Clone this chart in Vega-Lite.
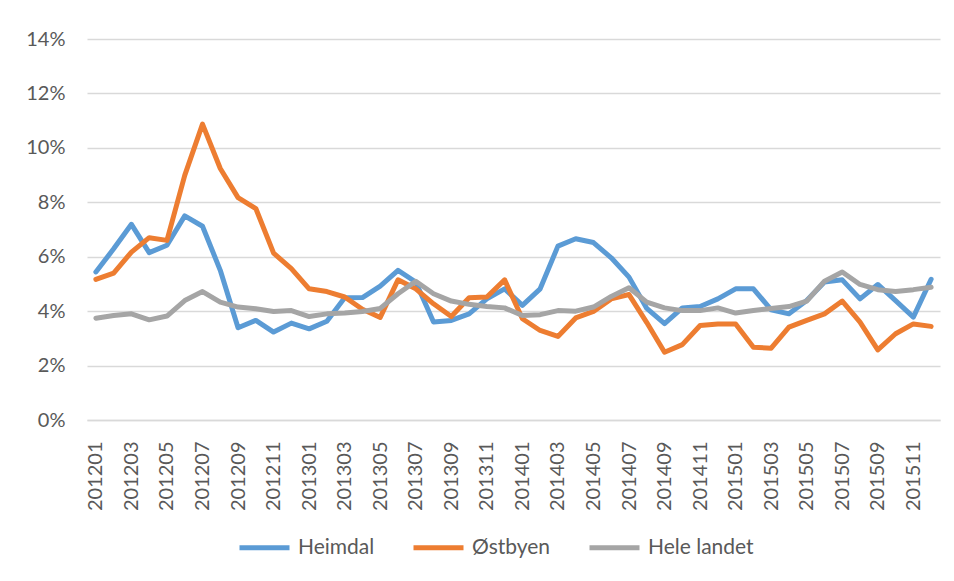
{
  "$schema": "https://vega.github.io/schema/vega-lite/v6.json",
  "width": 853,
  "height": 381,
  "autosize": {"type": "none"},
  "padding": {"left": 87, "top": 39, "right": 14, "bottom": 161},
  "background": "white",
  "config": {
    "view": {"stroke": null},
    "font": "Lato",
    "axis": {"labelFont": "Lato", "labelColor": "#595959", "labelFontSize": 20}
  },
  "data": {
    "values": [
      {"m":"201201","s":"Heimdal","v":5.44},{"m":"201202","s":"Heimdal","v":6.29},{"m":"201203","s":"Heimdal","v":7.19},{"m":"201204","s":"Heimdal","v":6.15},
      {"m":"201205","s":"Heimdal","v":6.42},{"m":"201206","s":"Heimdal","v":7.50},{"m":"201207","s":"Heimdal","v":7.12},{"m":"201208","s":"Heimdal","v":5.50},
      {"m":"201209","s":"Heimdal","v":3.39},{"m":"201210","s":"Heimdal","v":3.66},{"m":"201211","s":"Heimdal","v":3.23},{"m":"201212","s":"Heimdal","v":3.56},
      {"m":"201301","s":"Heimdal","v":3.35},{"m":"201302","s":"Heimdal","v":3.63},{"m":"201303","s":"Heimdal","v":4.49},{"m":"201304","s":"Heimdal","v":4.50},
      {"m":"201305","s":"Heimdal","v":4.92},{"m":"201306","s":"Heimdal","v":5.50},{"m":"201307","s":"Heimdal","v":5.07},{"m":"201308","s":"Heimdal","v":3.60},
      {"m":"201309","s":"Heimdal","v":3.66},{"m":"201310","s":"Heimdal","v":3.90},{"m":"201311","s":"Heimdal","v":4.45},{"m":"201312","s":"Heimdal","v":4.82},
      {"m":"201401","s":"Heimdal","v":4.21},{"m":"201402","s":"Heimdal","v":4.82},{"m":"201403","s":"Heimdal","v":6.39},{"m":"201404","s":"Heimdal","v":6.66},
      {"m":"201405","s":"Heimdal","v":6.52},{"m":"201406","s":"Heimdal","v":5.96},{"m":"201407","s":"Heimdal","v":5.25},{"m":"201408","s":"Heimdal","v":4.10},
      {"m":"201409","s":"Heimdal","v":3.54},{"m":"201410","s":"Heimdal","v":4.12},{"m":"201411","s":"Heimdal","v":4.17},{"m":"201412","s":"Heimdal","v":4.45},
      {"m":"201501","s":"Heimdal","v":4.82},{"m":"201502","s":"Heimdal","v":4.82},{"m":"201503","s":"Heimdal","v":4.05},{"m":"201504","s":"Heimdal","v":3.90},
      {"m":"201505","s":"Heimdal","v":4.39},{"m":"201506","s":"Heimdal","v":5.07},{"m":"201507","s":"Heimdal","v":5.15},{"m":"201508","s":"Heimdal","v":4.45},
      {"m":"201509","s":"Heimdal","v":4.98},{"m":"201510","s":"Heimdal","v":4.39},{"m":"201511","s":"Heimdal","v":3.78},{"m":"201512","s":"Heimdal","v":5.17},

      {"m":"201201","s":"Østbyen","v":5.17},{"m":"201202","s":"Østbyen","v":5.40},{"m":"201203","s":"Østbyen","v":6.17},{"m":"201204","s":"Østbyen","v":6.70},
      {"m":"201205","s":"Østbyen","v":6.60},{"m":"201206","s":"Østbyen","v":8.99},{"m":"201207","s":"Østbyen","v":10.87},{"m":"201208","s":"Østbyen","v":9.24},
      {"m":"201209","s":"Østbyen","v":8.17},{"m":"201210","s":"Østbyen","v":7.77},{"m":"201211","s":"Østbyen","v":6.13},{"m":"201212","s":"Østbyen","v":5.56},
      {"m":"201301","s":"Østbyen","v":4.82},{"m":"201302","s":"Østbyen","v":4.72},{"m":"201303","s":"Østbyen","v":4.52},{"m":"201304","s":"Østbyen","v":4.07},
      {"m":"201305","s":"Østbyen","v":3.77},{"m":"201306","s":"Østbyen","v":5.15},{"m":"201307","s":"Østbyen","v":4.82},{"m":"201308","s":"Østbyen","v":4.27},
      {"m":"201309","s":"Østbyen","v":3.80},{"m":"201310","s":"Østbyen","v":4.49},{"m":"201311","s":"Østbyen","v":4.52},{"m":"201312","s":"Østbyen","v":5.15},
      {"m":"201401","s":"Østbyen","v":3.72},{"m":"201402","s":"Østbyen","v":3.29},{"m":"201403","s":"Østbyen","v":3.07},{"m":"201404","s":"Østbyen","v":3.75},
      {"m":"201405","s":"Østbyen","v":3.99},{"m":"201406","s":"Østbyen","v":4.45},{"m":"201407","s":"Østbyen","v":4.61},{"m":"201408","s":"Østbyen","v":3.58},
      {"m":"201409","s":"Østbyen","v":2.49},{"m":"201410","s":"Østbyen","v":2.77},{"m":"201411","s":"Østbyen","v":3.47},{"m":"201412","s":"Østbyen","v":3.53},
      {"m":"201501","s":"Østbyen","v":3.53},{"m":"201502","s":"Østbyen","v":2.67},{"m":"201503","s":"Østbyen","v":2.64},{"m":"201504","s":"Østbyen","v":3.41},
      {"m":"201505","s":"Østbyen","v":3.66},{"m":"201506","s":"Østbyen","v":3.90},{"m":"201507","s":"Østbyen","v":4.37},{"m":"201508","s":"Østbyen","v":3.60},
      {"m":"201509","s":"Østbyen","v":2.58},{"m":"201510","s":"Østbyen","v":3.17},{"m":"201511","s":"Østbyen","v":3.53},{"m":"201512","s":"Østbyen","v":3.44},

      {"m":"201201","s":"Hele landet","v":3.74},{"m":"201202","s":"Hele landet","v":3.84},{"m":"201203","s":"Hele landet","v":3.90},{"m":"201204","s":"Hele landet","v":3.68},
      {"m":"201205","s":"Hele landet","v":3.82},{"m":"201206","s":"Hele landet","v":4.39},{"m":"201207","s":"Hele landet","v":4.72},{"m":"201208","s":"Hele landet","v":4.33},
      {"m":"201209","s":"Hele landet","v":4.15},{"m":"201210","s":"Hele landet","v":4.09},{"m":"201211","s":"Hele landet","v":3.99},{"m":"201212","s":"Hele landet","v":4.02},
      {"m":"201301","s":"Hele landet","v":3.80},{"m":"201302","s":"Hele landet","v":3.90},{"m":"201303","s":"Hele landet","v":3.93},{"m":"201304","s":"Hele landet","v":3.99},
      {"m":"201305","s":"Hele landet","v":4.10},{"m":"201306","s":"Hele landet","v":4.64},{"m":"201307","s":"Hele landet","v":5.10},{"m":"201308","s":"Hele landet","v":4.64},
      {"m":"201309","s":"Hele landet","v":4.37},{"m":"201310","s":"Hele landet","v":4.25},{"m":"201311","s":"Hele landet","v":4.17},{"m":"201312","s":"Hele landet","v":4.12},
      {"m":"201401","s":"Hele landet","v":3.84},{"m":"201402","s":"Hele landet","v":3.87},{"m":"201403","s":"Hele landet","v":4.02},{"m":"201404","s":"Hele landet","v":4.00},
      {"m":"201405","s":"Hele landet","v":4.15},{"m":"201406","s":"Hele landet","v":4.54},{"m":"201407","s":"Hele landet","v":4.86},{"m":"201408","s":"Hele landet","v":4.33},
      {"m":"201409","s":"Hele landet","v":4.12},{"m":"201410","s":"Hele landet","v":4.02},{"m":"201411","s":"Hele landet","v":4.02},{"m":"201412","s":"Hele landet","v":4.12},
      {"m":"201501","s":"Hele landet","v":3.93},{"m":"201502","s":"Hele landet","v":4.02},{"m":"201503","s":"Hele landet","v":4.10},{"m":"201504","s":"Hele landet","v":4.17},
      {"m":"201505","s":"Hele landet","v":4.37},{"m":"201506","s":"Hele landet","v":5.10},{"m":"201507","s":"Hele landet","v":5.44},{"m":"201508","s":"Hele landet","v":4.98},
      {"m":"201509","s":"Hele landet","v":4.79},{"m":"201510","s":"Hele landet","v":4.72},{"m":"201511","s":"Hele landet","v":4.79},{"m":"201512","s":"Hele landet","v":4.88}
    ]
  },
  "mark": {"type": "line", "strokeWidth": 5, "strokeJoin": "round", "strokeCap": "round"},
  "encoding": {
    "x": {
      "field": "m", "type": "ordinal",
      "scale": {"padding": 0.5},
      "axis": {
        "title": null, "labelAngle": -90, "ticks": false,
        "domainColor": "#d9d9d9", "domainWidth": 1.5,
        "labelPadding": 21, "labelOverlap": false,
        "values": ["201201","201203","201205","201207","201209","201211","201301","201303","201305","201307","201309","201311","201401","201403","201405","201407","201409","201411","201501","201503","201505","201507","201509","201511"]
      }
    },
    "y": {
      "field": "v", "type": "quantitative",
      "scale": {"domain": [0, 14], "nice": false},
      "axis": {
        "title": null, "values": [0,2,4,6,8,10,12,14],
        "labelExpr": "datum.value + '%'",
        "labelOverlap": false,
        "ticks": false, "domain": false,
        "gridColor": "#d9d9d9", "gridWidth": 1.5,
        "labelPadding": 22
      }
    },
    "color": {
      "field": "s", "type": "nominal",
      "sort": ["Heimdal", "Østbyen", "Hele landet"],
      "scale": {"domain": ["Heimdal", "Østbyen", "Hele landet"], "range": ["#5B9BD5", "#ED7D31", "#A5A5A5"]},
      "legend": {
        "title": null, "orient": "none", "direction": "horizontal",
        "legendX": 150, "legendY": 481,
        "symbolType": "stroke", "symbolSize": 2500, "symbolStrokeWidth": 5,
        "labelFont": "Lato", "labelFontSize": 21, "labelColor": "#595959",
        "labelOffset": 6, "columnPadding": 28
      }
    }
  }
}
